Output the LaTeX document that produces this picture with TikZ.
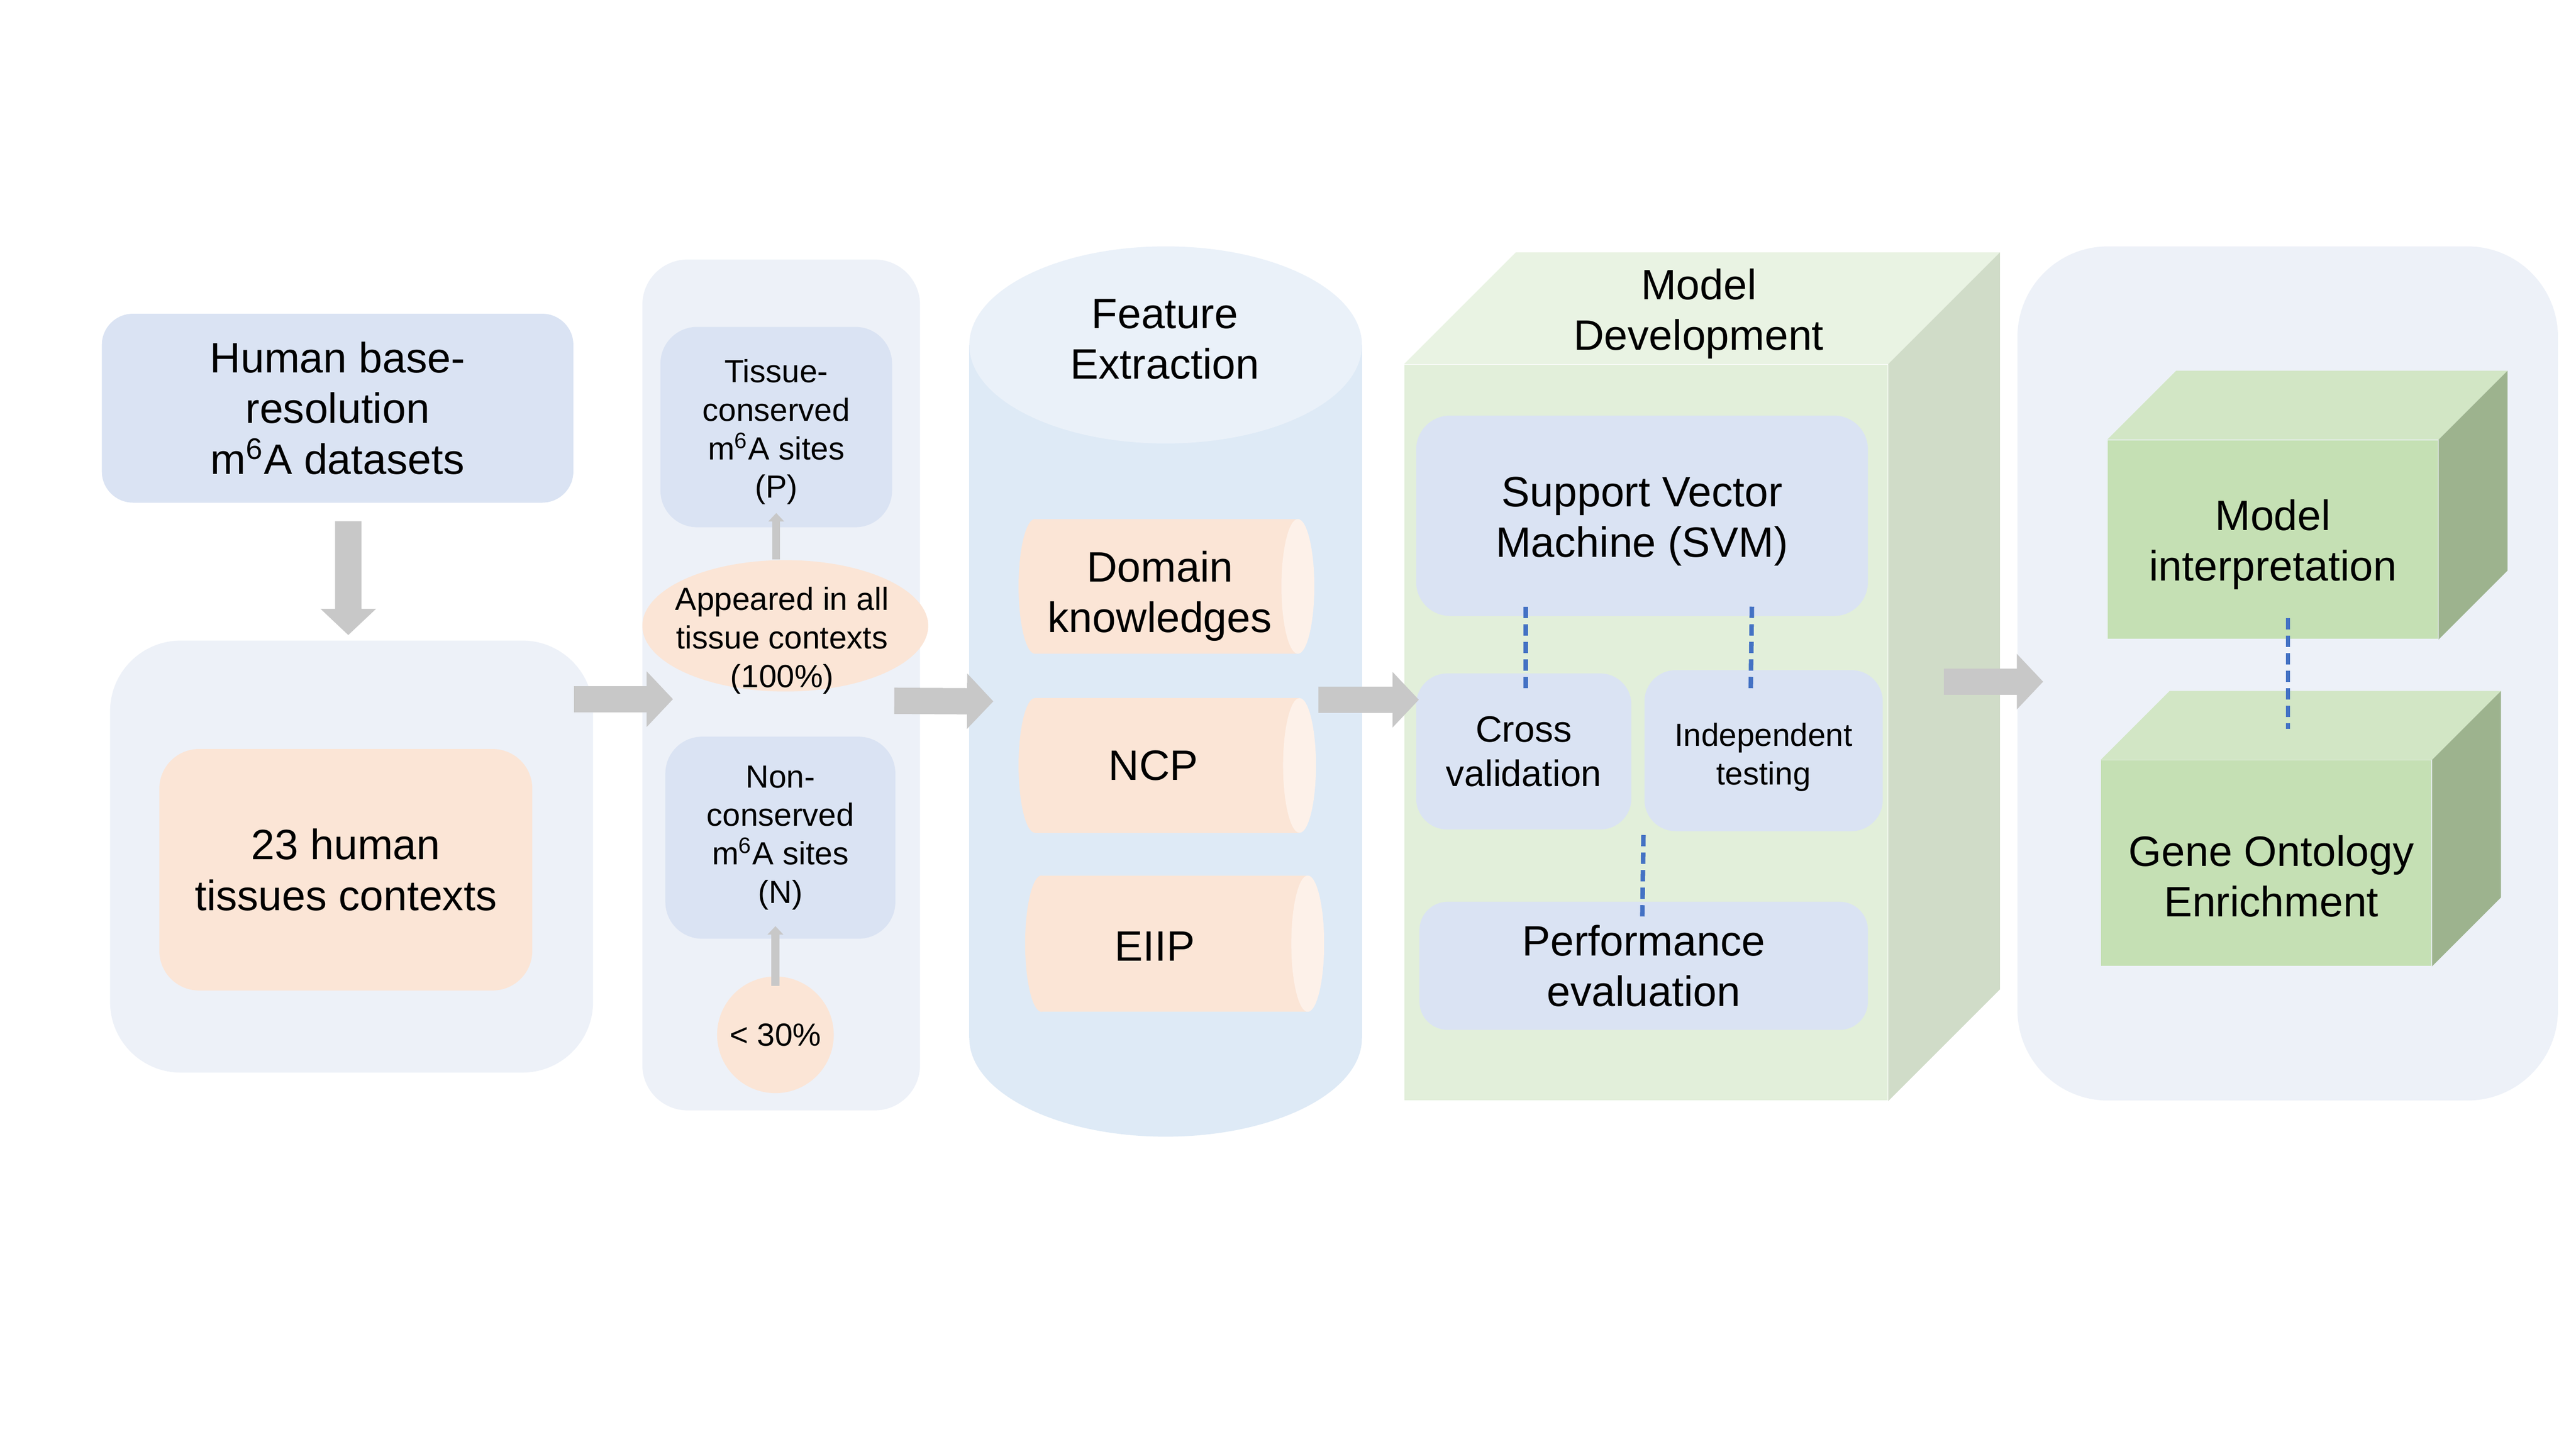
\documentclass[tikz,border=0pt]{standalone}
\usepackage{fontspec}
\setmainfont{Liberation Sans}
\usetikzlibrary{arrows.meta,shapes.geometric,calc}
\definecolor{boxblue}{HTML}{DAE3F3}
\definecolor{panel}{HTML}{EDF1F8}
\definecolor{peach}{HTML}{FBE5D6}
\definecolor{peachend}{HTML}{FDF1E9}
\definecolor{cylbody}{HTML}{DEEAF6}
\definecolor{cyltop}{HTML}{EAF1F9}
\definecolor{mdfront}{HTML}{E2EFDA}
\definecolor{mdtop}{HTML}{E9F3E3}
\definecolor{mdside}{HTML}{D0DCC8}
\definecolor{gfront}{HTML}{C5E0B4}
\definecolor{gtop}{HTML}{D2E6C5}
\definecolor{gside}{HTML}{9DB38E}
\definecolor{arrowgray}{HTML}{C8C8C8}
\definecolor{dashblue}{HTML}{4472C4}
\newcommand\fbig{\fontsize{15}{17.9}\selectfont}
\newcommand\fmid{\fontsize{13}{15.6}\selectfont}
\newcommand\fsmall{\fontsize{11.3}{13.6}\selectfont}
\begin{document}
\begin{tikzpicture}[x=0.020408cm,y=-0.020408cm,
  wh/.style 2 args={minimum width={#1*0.020408cm},minimum height={#2*0.020408cm}},
  box/.style={rectangle, inner sep=0pt, align=center, text=black},
  txt/.style={inner sep=0pt, align=center, text=black},
  blockarrow/.style={draw=arrowgray, line width=9.3pt, -{Triangle[length=9.3pt,width=19.1pt]}},
  smallarrow/.style={draw=arrowgray, line width=2.8pt, -{Triangle[length=3pt,width=5.5pt]}},
  dashline/.style={draw=dashblue, line width=1.6pt, dash pattern=on 4pt off 2.2pt},
]
\fill[white] (0,0) rectangle (1568,882);
\useasboundingbox (0,0) rectangle (1568,882);

% ---------- column 1
\node[box, fill=boxblue, rounded corners=11pt, wh={287}{115}, font=\fbig] (human) at (205.5,248.5)
  {Human base-\\resolution\\m\textsuperscript{6}A datasets};
\node[box, fill=panel, rounded corners=25pt, wh={294}{263}] (big) at (214,521.5) {};
\node[box, fill=peach, rounded corners=14pt, wh={227}{147}, font=\fbig] (ctx) at (210.5,529.5)
  {23 human\\tissues contexts};

% ---------- column 2
\node[box, fill=panel, rounded corners=16pt, wh={169}{518}] (p2) at (475.5,417) {};
\node[box, fill=boxblue, rounded corners=13pt, wh={141}{122}] (tc) at (472.5,260) {};
\node[txt, font=\fsmall] (tctxt) at (472.5,263) {Tissue-\\conserved\\m\textsuperscript{6}A sites\\(P)};
\node[box, fill=boxblue, rounded corners=13pt, wh={140}{123}, font=\fsmall] (nc) at (475,510)
  {Non-\\conserved\\m\textsuperscript{6}A sites\\(N)};
\node[ellipse, fill=peach, inner sep=0pt, wh={174}{80}] (app) at (478,381) {};
\node[txt, font=\fsmall] (apptxt) at (476,390) {Appeared in all\\tissue contexts\\(100\%)};
\node[circle, fill=peach, inner sep=0pt, minimum size={71*0.020408cm}, font=\fsmall] (lt) at (472,630) {< 30\%};
\draw[smallarrow] (app.north -| tc.south) -- ([shift={(0,-9)}]tc.south);
\draw[smallarrow] ([shift={(0,6)}]lt.north) -- ($(lt.north |- nc.south)+(0,-8)$);

% ---------- column 3 : feature extraction cylinder
\fill[cylbody] (590,210) rectangle (829,632);
\fill[cylbody] (709.5,632) ellipse [x radius=119.5, y radius=60];
\fill[cyltop] (709.5,210) ellipse [x radius=119.5, y radius=60];
\node[inner sep=0pt, wh={239}{542}] (cyl) at (709.5,421) {};
\node[txt, font=\fbig] (fe) at (709,206.5) {Feature\\Extraction};
% small cylinders
\fill[peach] (630,316) rectangle (790,398);
\fill[peach] (630,357) ellipse [x radius=10, y radius=41];
\fill[peachend] (790,357) ellipse [x radius=10, y radius=41];
\node[txt, font=\fbig] (dk) at (706,363) {Domain\\knowledges};
\fill[peach] (630,425) rectangle (791,507);
\fill[peach] (630,466) ellipse [x radius=10, y radius=41];
\fill[peachend] (791,466) ellipse [x radius=10, y radius=41];
\node[txt, font=\fbig] (ncp) at (702,466) {NCP};
\fill[peach] (634,533) rectangle (796,616);
\fill[peach] (634,574.5) ellipse [x radius=10, y radius=41.5];
\fill[peachend] (796,574.5) ellipse [x radius=10, y radius=41.5];
\node[txt, font=\fbig] (eiip) at (703,576) {EIIP};

% ---------- column 4 : model development
\node[box, fill=mdfront, wh={294}{448}] (md) at (1002,446) {};
\fill[mdtop] (md.north west) -- ++(68,-68) -- ([shift={(68,-68)}]md.north east) -- (md.north east) -- cycle;
\fill[mdside] (md.north east) -- ++(68,-68) -- ([shift={(68,-68)}]md.south east) -- (md.south east) -- cycle;
\node[txt, font=\fbig] (mdt) at (1034,191) {Model\\Development};
\node[box, fill=boxblue, rounded corners=12pt, wh={275}{122}] (svm) at (999.5,314) {};
\node[txt, font=\fbig] (svmtxt) at (999.5,317.5) {Support Vector\\Machine (SVM)};
\node[box, fill=boxblue, rounded corners=11pt, wh={131}{95}, font=\fmid] (cv) at (927.5,457.5)
  {Cross\\validation};
\node[box, fill=boxblue, rounded corners=11pt, wh={145}{98}] (it) at (1073.5,457) {};
\node[txt, font=\fsmall] (ittxt) at (1073.5,461) {Independent\\testing};
\node[box, fill=boxblue, rounded corners=10pt, wh={273}{78}, font=\fbig] (perf) at (1000.5,588)
  {Performance\\evaluation};
\draw[dashline] ([shift={(67,-6)}]svm.south west) -- ([shift={(67,11)}]cv.north west);
\draw[dashline] ([shift={(-71,-6)}]svm.south east) -- ([shift={(65,13)}]it.north west);
\draw[dashline] ([shift={(7,3)}]cv.south east) -- ([shift={(136,11)}]perf.north west);

% ---------- column 5
\node[box, fill=panel, rounded corners=32pt, wh={329}{520}] (rp) at (1392.5,410) {};
\node[box, fill=gfront, wh={201}{121}] (mi) at (1383.5,328.5) {};
\fill[gtop] (mi.north west) -- ++(42,-42) -- ([shift={(42,-42)}]mi.north east) -- (mi.north east) -- cycle;
\fill[gside] (mi.north east) -- ++(42,-42) -- ([shift={(42,-42)}]mi.south east) -- (mi.south east) -- cycle;
\node[txt, font=\fbig] (mitxt) at (1383.5,331.5) {Model\\interpretation};
\node[box, fill=gfront, wh={201}{125}] (go) at (1379.5,525.5) {};
\fill[gtop] (go.north west) -- ++(42,-42) -- ([shift={(42,-42)}]go.north east) -- (go.north east) -- cycle;
\fill[gside] (go.north east) -- ++(42,-42) -- ([shift={(42,-42)}]go.south east) -- (go.south east) -- cycle;
\node[txt, font=\fbig] (gotxt) at (1382.5,533.5) {Gene Ontology\\Enrichment};
\draw[dashline] ([shift={(110,-13)}]mi.south west) -- ([shift={(114,-19)}]go.north west);

% ---------- block arrows
\draw[blockarrow] ([shift={(6.5,11)}]human.south) -- ([shift={(-2,-3)}]big.north);
\draw[blockarrow] ([shift={(-12,36)}]big.north east) -- ([shift={(19,268)}]p2.north west);
\draw[blockarrow] ([shift={(-16,269)}]p2.north east) -- ([shift={(15,6)}]cyl.west);
\draw[blockarrow] ([shift={(-27,5)}]cyl.east) -- ([shift={(9,-20)}]md.west);
\draw[blockarrow] ([shift={(34,-31)}]md.east) -- ([shift={(16,5)}]rp.west);
\end{tikzpicture}
\end{document}
